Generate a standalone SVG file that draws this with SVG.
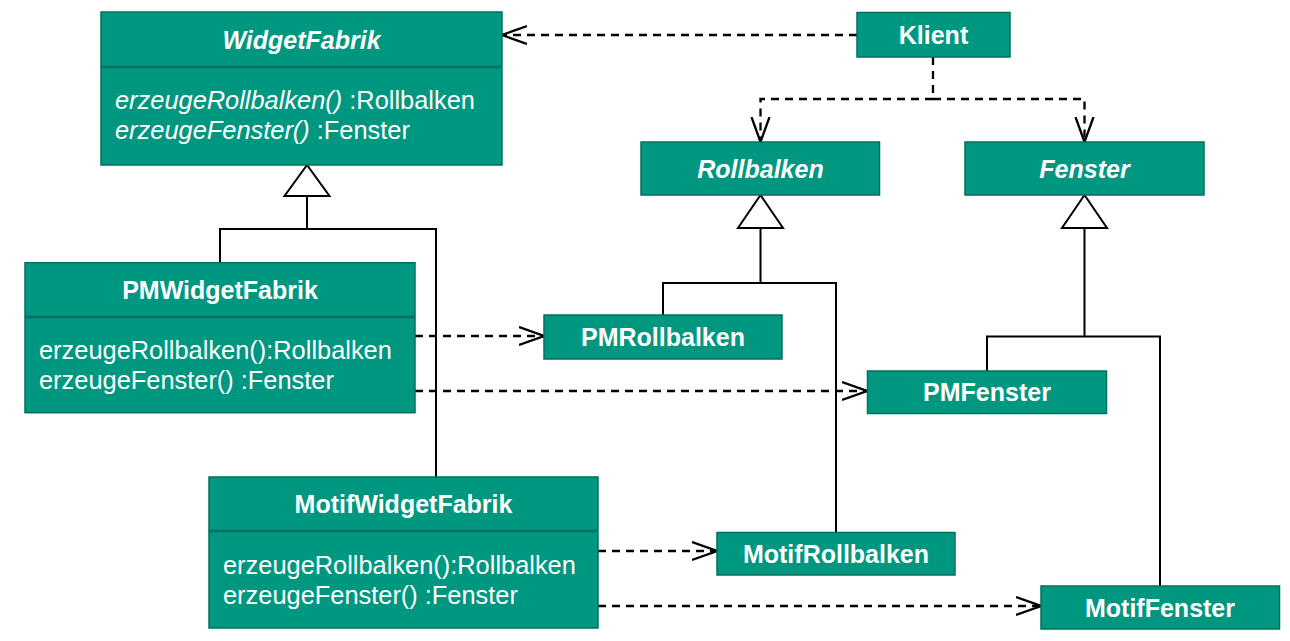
<svg xmlns="http://www.w3.org/2000/svg" width="1290" height="641" viewBox="0 0 1290 641">
<defs>
<style>
.box{fill:#009780;stroke:#00705f;stroke-width:1.5}
.div{stroke:#00705f;stroke-width:2.5}
.t{font-family:"Liberation Sans",Arial,sans-serif;font-size:25px;fill:#ffffff}
.m{font-size:25.4px}
.b{font-weight:bold}
.i{font-style:italic}
.mid{text-anchor:middle}
.dash{fill:none;stroke:#000;stroke-width:2.3;stroke-dasharray:8 6}
.solid{fill:none;stroke:#000;stroke-width:2}
.tri{fill:#fff;stroke:#000;stroke-width:2}
</style>
<marker id="open" markerUnits="userSpaceOnUse" markerWidth="28" markerHeight="22" refX="25" refY="10" orient="auto" viewBox="0 0 28 22">
<path d="M0,1 L25,10 L0,19" fill="none" stroke="#000" stroke-width="2.3"/>
</marker>
</defs>
<rect width="1290" height="641" fill="#fff"/>

<g id="connectors">
<path class="dash" d="M857,35 H502" marker-end="url(#open)"/>
<path class="dash" d="M933,57 V99 H760.5 V142" marker-end="url(#open)"/>
<path class="dash" d="M933,99 H1084.5 V142" marker-end="url(#open)"/>
<path class="dash" d="M415,336 H544" marker-end="url(#open)"/>
<path class="dash" d="M415,391 H867" marker-end="url(#open)"/>
<path class="dash" d="M598,551 H717" marker-end="url(#open)"/>
<path class="dash" d="M598,606 H1041" marker-end="url(#open)"/>
<path class="solid" d="M307,196 V229 M220,262.7 V229 H436 V477"/>
<polygon class="tri" points="307,165 284.5,196 329.5,196"/>
<path class="solid" d="M760.5,228 V283 M663,315 V283 H836 V532"/>
<polygon class="tri" points="760.5,195 738,228 783,228"/>
<path class="solid" d="M1084.5,228 V336.5 M987,371 V336.5 H1160 V586"/>
<polygon class="tri" points="1084.5,195 1062,228 1107,228"/>
</g>

<g id="WidgetFabrik">
<rect class="box" x="101" y="12" width="401" height="153"/>
<line class="div" x1="101" y1="67" x2="502" y2="67"/>
<text class="t b i mid" x="301.5" y="48.5">WidgetFabrik</text>
<text class="t m" x="115" y="109"><tspan class="i">erzeugeRollbalken()</tspan> :Rollbalken</text>
<text class="t m" x="115" y="139"><tspan class="i">erzeugeFenster()</tspan> :Fenster</text>
</g>

<g id="Klient">
<rect class="box" x="857" y="12.5" width="153" height="44.5"/>
<text class="t b mid" x="933.5" y="44">Klient</text>
</g>

<g id="Rollbalken">
<rect class="box" x="641" y="142" width="238.5" height="53"/>
<text class="t b i mid" x="760.5" y="177.5">Rollbalken</text>
</g>

<g id="Fenster">
<rect class="box" x="965" y="142" width="239" height="53"/>
<text class="t b i mid" x="1084.5" y="177.5">Fenster</text>
</g>

<g id="PMWidgetFabrik">
<rect class="box" x="25" y="262.7" width="390" height="150"/>
<line class="div" x1="25" y1="317" x2="415" y2="317"/>
<text class="t b mid" x="220" y="299">PMWidgetFabrik</text>
<text class="t m" x="39" y="359">erzeugeRollbalken():Rollbalken</text>
<text class="t m" x="39" y="389">erzeugeFenster() :Fenster</text>
</g>

<g id="MotifWidgetFabrik">
<rect class="box" x="209" y="477" width="389" height="151"/>
<line class="div" x1="209" y1="531" x2="598" y2="531"/>
<text class="t b mid" x="403.5" y="513">MotifWidgetFabrik</text>
<text class="t m" x="223" y="574">erzeugeRollbalken():Rollbalken</text>
<text class="t m" x="223" y="604">erzeugeFenster() :Fenster</text>
</g>

<g id="PMRollbalken">
<rect class="box" x="544" y="315" width="238" height="44"/>
<text class="t b mid" x="663" y="346">PMRollbalken</text>
</g>

<g id="PMFenster">
<rect class="box" x="867.5" y="371" width="239" height="42.5"/>
<text class="t b mid" x="987" y="401">PMFenster</text>
</g>

<g id="MotifRollbalken">
<rect class="box" x="717" y="532.5" width="238" height="42.5"/>
<text class="t b mid" x="836" y="562.5">MotifRollbalken</text>
</g>

<g id="MotifFenster">
<rect class="box" x="1041" y="586" width="238.5" height="43"/>
<text class="t b mid" x="1160" y="616.5">MotifFenster</text>
</g>
</svg>
